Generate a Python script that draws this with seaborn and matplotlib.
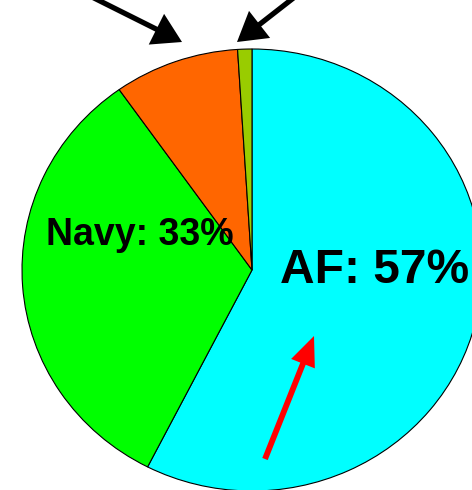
import matplotlib
matplotlib.use('Agg')
import matplotlib.pyplot as plt
import seaborn as sns

# slices, clockwise from 12 o'clock
services = ['AF', 'Navy', 'Other', 'Small']
shares = [57.5, 32.7, 8.8, 1.0]
colors = ['#00FFFF', '#00FF00', '#FF6600', '#99CC00']
labels = {'AF': 'AF: 57%', 'Navy': 'Navy: 33%'}

sns.set_style('white')
plt.rcParams['font.family'] = ['Liberation Sans', 'DejaVu Sans']

fig = plt.figure(figsize=(4.72, 4.90), dpi=100)
ax = fig.add_axes([0, 0, 1, 1])
ax.pie(shares, colors=colors, startangle=90, counterclock=False,
       wedgeprops=dict(edgecolor='black', linewidth=0.8))
# the original pie is slightly squashed, so no equal aspect
ax.set_aspect('auto')
ax.set_xlim(-252 / 230, (472 - 252) / 230)
ax.set_ylim(-220 / 221, 270 / 221)
ax.axis('off')

H = 490
def px(x, y):
    return (x, H - y)

ax.text(*px(46, 245), labels['Navy'], transform=None, fontsize=27,
        fontweight='bold', ha='left', va='baseline', color='black')
ax.text(*px(280, 283), labels['AF'], transform=None, fontsize=34.5,
        fontweight='bold', ha='left', va='baseline', color='black')

black = dict(arrowstyle='-|>,head_length=1.5,head_width=0.9', lw=3.8,
             color='black', shrinkA=0, shrinkB=0, mutation_scale=10,
             joinstyle='miter', capstyle='butt')
ax.annotate('', xy=px(182, 42), xytext=px(90, -4), xycoords='figure pixels',
            textcoords='figure pixels', arrowprops=black)
ax.annotate('', xy=px(237, 42), xytext=px(296, -4), xycoords='figure pixels',
            textcoords='figure pixels', arrowprops=black)
red = dict(arrowstyle='-|>,head_length=1.4,head_width=0.6', lw=4.2,
           color='red', shrinkA=0, shrinkB=0, mutation_scale=10,
           joinstyle='miter', capstyle='butt')
ax.annotate('', xy=px(314, 336), xytext=px(265, 459), xycoords='figure pixels',
            textcoords='figure pixels', arrowprops=red)

fig.savefig('out.png', dpi=100)
plt.close(fig)
